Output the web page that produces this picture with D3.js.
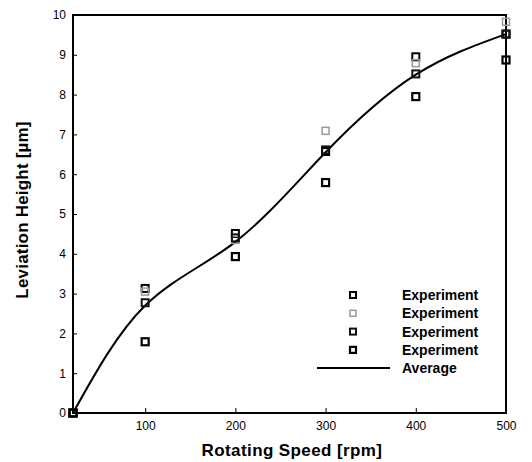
<!doctype html>
<html lang=en>
<head>
  <meta charset=utf-8>
  <title>Leviation Height</title>
  <style>
    body { margin: 0; background: #fff; }
    text { font-family: "Liberation Sans", Arial, sans-serif; }
  </style>
</head>
<body>
  <svg></svg>
  <script src="https://d3js.org/d3.v7.min.js"></script>
  <script>
    var speeds = [20, 100, 200, 300, 400, 500];
    var exp1 = [0, 3.13, 4.51, 6.57, 8.95, 9.52];
    var exp2 = [0, 3.05, 4.35, 7.09, 8.79, 9.83];
    var exp3 = [0, 2.77, 4.40, 6.61, 8.52, 9.52];
    var exp4 = [0, 1.79, 3.93, 5.79, 7.95, 8.87];
    var average = [0, 2.70, 4.30, 6.55, 8.50, 9.52];
    var xTicks = [100, 200, 300, 400, 500];
    var yTicks = [0, 1, 2, 3, 4, 5, 6, 7, 8, 9, 10];

    var width = 532, height = 462;
    var plotLeft = 73, plotRight = 506, plotTop = 15, plotBottom = 413;

    var svg = d3.select("svg")
      .attr("width", width)
      .attr("height", height);

    var x = d3.scaleLinear().domain([20, 500]).range([plotLeft, plotRight]);
    var y = d3.scaleLinear().domain([0, 10]).range([plotBottom, plotTop]);

    // frame
    svg.append("rect")
      .attr("x", plotLeft).attr("y", plotTop)
      .attr("width", plotRight - plotLeft).attr("height", plotBottom - plotTop)
      .attr("fill", "none").attr("stroke", "#000").attr("stroke-width", 2);

    var xAxis = svg.append("g")
      .attr("transform", "translate(0," + plotBottom + ")")
      .call(d3.axisBottom(x).tickValues(xTicks).tickSizeInner(-5).tickSizeOuter(0).tickPadding(8));
    xAxis.select(".domain").remove();
    xAxis.selectAll("text").attr("font-size", 12).attr("fill", "#000");

    var yAxis = svg.append("g")
      .attr("transform", "translate(" + plotLeft + ",0)")
      .call(d3.axisLeft(y).tickValues(yTicks).tickSizeInner(-4).tickSizeOuter(0).tickPadding(7));
    yAxis.select(".domain").remove();
    yAxis.selectAll("text").attr("font-size", 12).attr("fill", "#000");

    // average curve
    var line = d3.line()
      .x(function (d, i) { return x(speeds[i]); })
      .y(function (d) { return y(d); })
      .curve(d3.curveNatural);

    svg.append("path")
      .datum(average)
      .attr("d", line)
      .attr("fill", "none")
      .attr("stroke", "#000")
      .attr("stroke-width", 2);

    var series = [
      { values: exp1, stroke: "#000", w: 2 },
      { values: exp2, stroke: "#999", w: 1.5 },
      { values: exp3, stroke: "#111", w: 2 },
      { values: exp4, stroke: "#000", w: 2.2 }
    ];

    series.forEach(function (s) {
      svg.append("g").selectAll("rect")
        .data(s.values)
        .enter().append("rect")
        .attr("x", function (d, i) { return x(speeds[i]) - 3.5; })
        .attr("y", function (d) { return y(d) - 3.5; })
        .attr("width", 7).attr("height", 7)
        .attr("fill", "none")
        .attr("stroke", s.stroke)
        .attr("stroke-width", s.w);
    });

    // legend
    var legend = svg.append("g");
    series.forEach(function (s, i) {
      var yy = 295 + i * 18.3;
      legend.append("rect")
        .attr("x", 350).attr("y", yy - 3)
        .attr("width", 6).attr("height", 6)
        .attr("fill", "none").attr("stroke", s.stroke).attr("stroke-width", s.w);
      legend.append("text")
        .attr("x", 402).attr("y", yy + 5)
        .attr("font-size", 14).attr("font-weight", "bold")
        .text("Experiment");
    });
    legend.append("line")
      .attr("x1", 317).attr("x2", 390)
      .attr("y1", 368).attr("y2", 368)
      .attr("stroke", "#000").attr("stroke-width", 2);
    legend.append("text")
      .attr("x", 402).attr("y", 373)
      .attr("font-size", 14).attr("font-weight", "bold")
      .text("Average");

    // axis titles
    svg.append("text")
      .attr("x", 292).attr("y", 456)
      .attr("text-anchor", "middle")
      .attr("font-size", 17).attr("font-weight", "bold")
      .attr("letter-spacing", 0.4)
      .text("Rotating Speed [rpm]");

    svg.append("text")
      .attr("transform", "translate(28,210) rotate(-90)")
      .attr("text-anchor", "middle")
      .attr("font-size", 17).attr("font-weight", "bold")
      .attr("letter-spacing", 0.2)
      .text("Leviation Height [\u00b5m]");
  </script>
</body>
</html>
